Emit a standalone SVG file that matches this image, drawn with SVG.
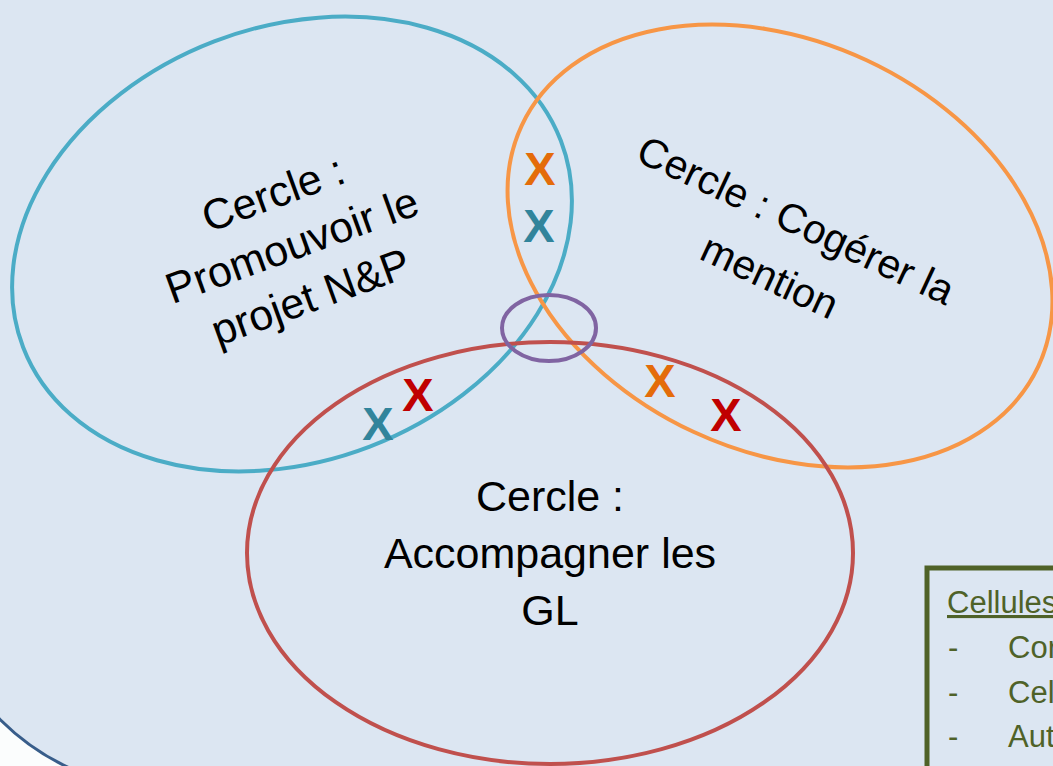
<svg xmlns="http://www.w3.org/2000/svg" width="1053" height="766" viewBox="0 0 1053 766">
<style>
.ring{fill:none;stroke-width:4}
.lbl{font-family:"Liberation Sans",Arial,sans-serif;fill:#000;text-anchor:middle}
.x{font-family:"Liberation Sans",Arial,sans-serif;font-weight:bold;font-size:47px;text-anchor:middle}
.g{font-family:"Liberation Sans",Arial,sans-serif;font-size:31px;fill:#4f6228}
</style>
<rect width="1053" height="766" fill="#fbfdfd"/>
<rect id="panel" x="-70" y="-100" width="1400" height="890" rx="240" ry="240" fill="#dce6f2" stroke="#385d8a" stroke-width="3"/>
<g id="circle-promouvoir">
<ellipse class="ring" cx="292" cy="244" rx="288" ry="217" transform="rotate(-21 292 244)" stroke="#4bacc6"/>
<g transform="translate(297 259) rotate(-20)" class="lbl" font-size="43">
<text x="0" y="-55">Cercle :</text>
<text x="0" y="0">Promouvoir le</text>
<text x="0" y="55">projet N&amp;P</text>
</g>
</g>
<g id="circle-cogerer">
<ellipse class="ring" cx="780" cy="246" rx="285" ry="205" transform="rotate(25 780 246)" stroke="#f79646"/>
<g transform="translate(790 233) rotate(25)" class="lbl" font-size="41">
<text x="0" y="0">Cercle : Cogérer la</text>
<text x="0" y="62">mention</text>
</g>
</g>
<g id="circle-accompagner">
<ellipse class="ring" cx="550" cy="553" rx="303" ry="211" stroke="#c0504d"/>
<g class="lbl" font-size="43">
<text x="550" y="511">Cercle :</text>
<text x="550" y="568">Accompagner les</text>
<text x="550" y="625">GL</text>
</g>
</g>
<g id="intersection">
<ellipse class="ring" cx="549" cy="328" rx="47" ry="33" stroke="#8064a2"/>
</g>
<g id="marks">
<text class="x" x="540" y="185" fill="#e46c0a">X</text>
<text class="x" x="539" y="242" fill="#31849b">X</text>
<text class="x" x="378" y="440" fill="#31849b">X</text>
<text class="x" x="418" y="411" fill="#c00000">X</text>
<text class="x" x="660" y="397" fill="#e46c0a">X</text>
<text class="x" x="726" y="431" fill="#c00000">X</text>
</g>
<g id="connectors"></g>
<g id="legend">
<rect x="927" y="568" width="200" height="260" fill="none" stroke="#4f6228" stroke-width="5"/>
<text class="g" x="947" y="613" text-decoration="underline">Cellules</text>
<text class="g" x="948" y="658">-</text>
<text class="g" x="1008" y="658">Cor</text>
<text class="g" x="948" y="703">-</text>
<text class="g" x="1008" y="703">Cel</text>
<text class="g" x="948" y="747">-</text>
<text class="g" x="1008" y="747">Aut</text>
</g>
</svg>
